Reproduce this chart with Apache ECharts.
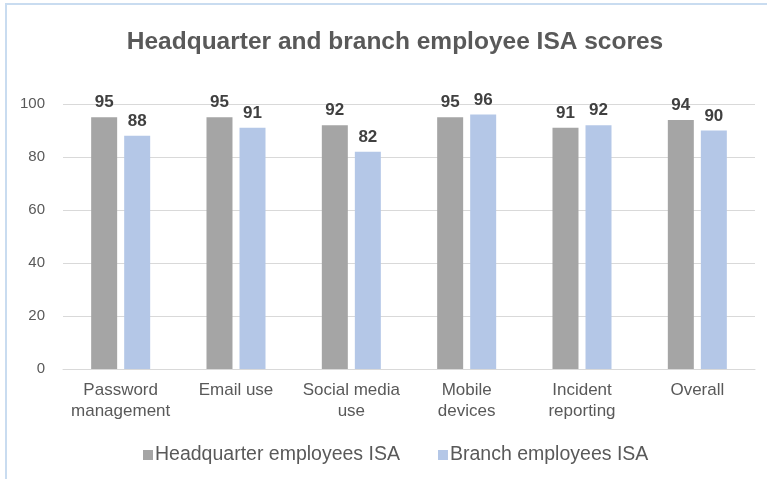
<!DOCTYPE html>
<html><head><meta charset="utf-8">
<script src="https://cdn.jsdelivr.net/npm/echarts@6/dist/echarts.min.js"></script>
<style>html,body{margin:0;padding:0;background:#fff}#c{width:767px;height:479px}</style>
</head><body><div id="c"></div>
<script>
const categories = ['Password\nmanagement', 'Email use', 'Social media\nuse', 'Mobile\ndevices', 'Incident\nreporting', 'Overall'];
const hqValues = [95, 95, 92, 95, 91, 94];
const branchValues = [88, 91, 82, 96, 92, 90];
const seriesNames = ['Headquarter employees ISA', 'Branch employees ISA'];
const yTicks = [0, 20, 40, 60, 80, 100];

const chart = echarts.init(document.getElementById('c'), null, {renderer: 'canvas'});
const font = 'Liberation Sans, Arial, sans-serif';
const labelStyle = {show: true, position: 'top', distance: 6, fontFamily: font, fontSize: 17, fontWeight: 'bold', color: '#404040'};
chart.setOption({
  animation: false,
  graphic: [{type: 'rect', shape: {x: 6, y: 4, width: 900, height: 600}, style: {fill: 'none', stroke: '#C9DCF0', lineWidth: 2}, silent: true}],
  title: {text: 'Headquarter and branch employee ISA scores', left: 390, textAlign: 'center', top: 25,
    textStyle: {fontFamily: font, fontSize: 24.5, fontWeight: 'bold', color: '#595959'}},
  legend: {data: seriesNames, left: 138, top: 440, itemWidth: 10, itemHeight: 10, itemGap: 38, icon: 'rect',
    textStyle: {fontFamily: font, fontSize: 19.5, color: '#595959', padding: [0, 0, 0, -3]}},
  grid: {left: 63, right: 12, top: 104, bottom: 110},
  xAxis: {type: 'category', data: categories,
    axisLine: {lineStyle: {color: '#D9D9D9', width: 1}}, axisTick: {show: false},
    axisLabel: {fontFamily: font, fontSize: 17, color: '#595959', margin: 11, lineHeight: 21, interval: 0}},
  yAxis: {type: 'value', min: yTicks[0], max: yTicks[yTicks.length - 1], interval: 20,
    axisLine: {show: false}, axisTick: {show: false},
    axisLabel: {fontFamily: font, fontSize: 15, color: '#595959', margin: 18},
    splitLine: {lineStyle: {color: '#D9D9D9', width: 1}}},
  series: [
    {name: seriesNames[0], type: 'bar', data: hqValues, barWidth: 26, barGap: '27%',
      itemStyle: {color: '#A5A5A5'}, label: labelStyle},
    {name: seriesNames[1], type: 'bar', data: branchValues, barWidth: 26,
      itemStyle: {color: '#B4C7E7'}, label: labelStyle}
  ]
});
</script></body></html>
